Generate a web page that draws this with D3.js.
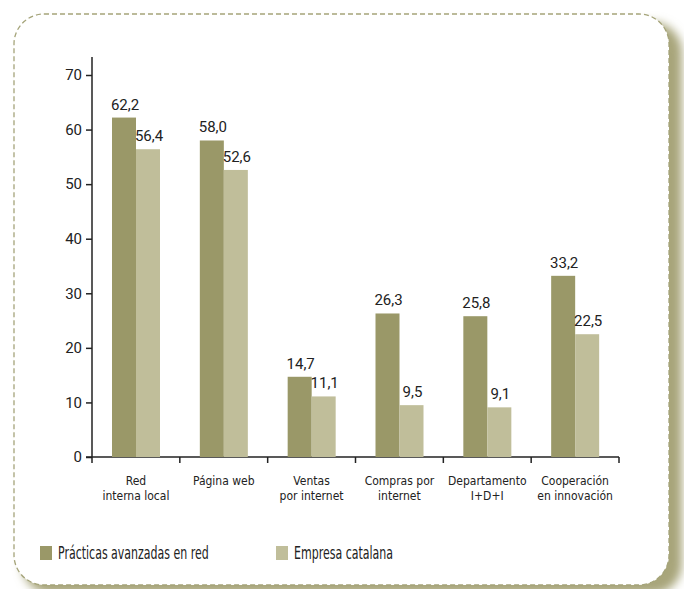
<!DOCTYPE html>
<html>
<head>
<meta charset="utf-8">
<script src="https://cdn.jsdelivr.net/npm/d3@7"></script>
<style>
  body { margin: 0; background: #fff; }
  .num { font-family: Roboto, "Open Sans", sans-serif; fill: #222; }
  .cond { font-family: "DejaVu Sans Condensed", "Open Sans", sans-serif; fill: #222; }
</style>
</head>
<body>
<div id="chart"></div>
<script>
// categories (two lines each)
var categories = ["Red|interna local", "Página web", "Ventas|por internet", "Compras por|internet", "Departamento|I+D+I", "Cooperación|en innovación"];
var seriesNames = ["Prácticas avanzadas en red", "Empresa catalana"];
var practicas = [62.2, 58.0, 14.7, 26.3, 25.8, 33.2];
var empresa = [56.4, 52.6, 11.1, 9.5, 9.1, 22.5];
var yTicks = [0, 10, 20, 30, 40, 50, 60, 70];
var colors = ["#9a9868", "#c0be9a"];

var W = 684, H = 589;

var svg = d3.select("#chart")
  .append("svg")
    .attr("width", W)
    .attr("height", H);

// shadow behind the frame
var defs = svg.append("defs");
var f = defs.append("filter").attr("id", "shadow")
  .attr("x", "-10%").attr("y", "-10%").attr("width", "130%").attr("height", "130%");
f.append("feGaussianBlur").attr("stdDeviation", 5);

svg.append("rect")
  .attr("x", 22).attr("y", 22)
  .attr("width", 660).attr("height", 572)
  .attr("rx", 30)
  .attr("fill", "#a8a57a")
  .attr("filter", "url(#shadow)");

svg.append("rect")
  .attr("x", 14).attr("y", 14)
  .attr("width", 655).attr("height", 571)
  .attr("rx", 30)
  .attr("fill", "#fff")
  .attr("stroke", "#a5a47a")
  .attr("stroke-width", 1.3)
  .attr("stroke-dasharray", "5,3");

var pLeft = 92, pRight = 619, pTop = 75, pBottom = 457;

// scales
var x0 = d3.scaleBand()
  .domain(categories)
  .range([pLeft, pRight]);

var x1 = d3.scaleBand()
  .domain(seriesNames)
  .range([20, 68]);

var y = d3.scaleLinear()
  .domain([0, 70])
  .range([pBottom, pTop]);

// Y axis
var yAxis = svg.append("g")
  .attr("transform", "translate(" + pLeft + ",0)")
  .call(d3.axisLeft(y).tickValues(yTicks).tickSize(6).tickPadding(4));
yAxis.select(".domain").attr("d", "M0,57V" + pBottom).attr("stroke", "#222").attr("stroke-width", 1.5);
yAxis.selectAll(".tick line").attr("stroke", "#222").attr("stroke-width", 1.5);
yAxis.selectAll(".tick text")
  .attr("class", "num")
  .style("font-size", "15px")
  .attr("fill", "#222");

// X axis
var xAxis = svg.append("g")
  .attr("transform", "translate(0," + pBottom + ")");
xAxis.append("line")
  .attr("x1", pLeft - 6).attr("x2", pRight)
  .attr("stroke", "#222").attr("stroke-width", 1.5);
var bounds = categories.map(function(c) { return x0(c); }).concat([pRight]);
xAxis.selectAll(".xt")
  .data(bounds)
  .enter().append("line")
  .attr("x1", function(d) { return d; })
  .attr("x2", function(d) { return d; })
  .attr("y1", 0).attr("y2", 6)
  .attr("stroke", "#222").attr("stroke-width", 1.5);

var catLabels = xAxis.selectAll(".cat")
  .data(categories)
  .enter().append("text")
  .attr("class", "cond")
  .attr("text-anchor", "middle")
  .style("font-size", "12px")
  .attr("x", function(d) { return x0(d) + x0.bandwidth() / 2; })
  .attr("y", 28);
catLabels.each(function(d) {
  var parts = d.split("|");
  var t = d3.select(this);
  parts.forEach(function(p, i) {
    t.append("tspan")
      .attr("x", x0(d) + x0.bandwidth() / 2)
      .attr("dy", i === 0 ? 0 : 15)
      .text(p);
  });
});

// bars
var rows = categories.map(function(c, i) {
  return { cat: c, values: [practicas[i], empresa[i]] };
});

var groups = svg.selectAll(".grp")
  .data(rows)
  .enter().append("g")
  .attr("transform", function(d) { return "translate(" + x0(d.cat) + ",0)"; });

groups.selectAll("rect")
  .data(function(d) { return d.values.map(function(v, j) { return { name: seriesNames[j], v: v, j: j }; }); })
  .enter().append("rect")
  .attr("x", function(d) { return x1(d.name); })
  .attr("y", function(d) { return y(d.v); })
  .attr("width", x1.bandwidth())
  .attr("height", function(d) { return pBottom - y(d.v); })
  .attr("fill", function(d) { return colors[d.j]; });

groups.selectAll(".val")
  .data(function(d) { return d.values.map(function(v, j) { return { name: seriesNames[j], v: v, j: j }; }); })
  .enter().append("text")
  .attr("class", "num")
  .attr("text-anchor", "middle")
  .style("font-size", "15px")
  .attr("x", function(d) { return x1(d.name) + x1.bandwidth() / 2 + 1; })
  .attr("y", function(d) { return y(d.v) - 8; })
  .text(function(d) { return d3.format(".1f")(d.v).replace(".", ","); });

// legend
var legendX = [40, 276];
var lg = svg.selectAll(".lg")
  .data(seriesNames)
  .enter().append("g")
  .attr("transform", function(d, i) { return "translate(" + legendX[i] + ",546)"; });
lg.append("rect")
  .attr("width", 12).attr("height", 14)
  .attr("fill", function(d, i) { return colors[i]; });
lg.append("text")
  .attr("class", "cond")
  .attr("transform", "translate(18,13) scale(0.72,1)")
  .style("font-size", "17px")
  .text(function(d) { return d; });
</script>
</body>
</html>
